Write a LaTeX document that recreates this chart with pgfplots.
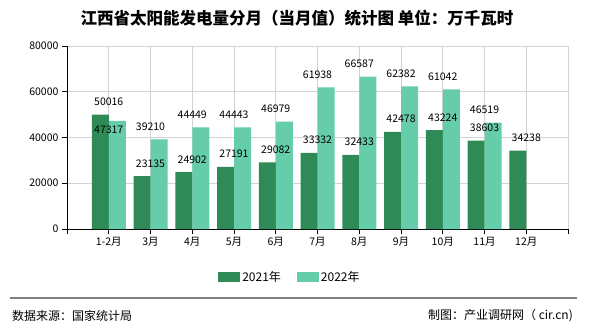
\documentclass[border=0pt]{standalone}
\usepackage{pgfplots}
\pgfplotsset{compat=1.18}
\usepackage{fontspec}
\setmainfont{Noto Sans CJK SC}
\definecolor{c21}{HTML}{2E8B57}
\definecolor{c22}{HTML}{66CDAA}
\definecolor{gridc}{HTML}{D3D3D3}
\pgfplotstableread{
x y s
0 50016 9
1 23135 9
2 24902 9
3 27191 9
4 29082 9
5 33332 9
6 32433 9
7 42478 9
8 43224 9
9 38603 9
10 34238 9
}\dataA
\pgfplotstableread{
x y s
0 47317 -13
1 39210 9
2 44449 9
3 44443 9
4 46979 9
5 61938 9
6 66587 9
7 62382 9
8 61042 9
9 46519 9
}\dataB
\begin{document}
\begin{tikzpicture}[x=1bp,y=1bp]
\path[use as bounding box] (0,0) rectangle (590,330);
\node[font=\fontsize{16.5bp}{19bp}\selectfont\bfseries] at (297,312) {江西省太阳能发电量分月（当月值）统计图 单位：万千瓦时};
\draw[color=gray, line width=1.5bp] (10,32) -- (577,32);
\node[anchor=west, inner sep=0pt, font=\fontsize{12bp}{14bp}\selectfont] at (12,14) {数据来源：国家统计局};
\node[anchor=east, inner sep=0pt, font=\fontsize{12bp}{14bp}\selectfont] at (573,14) {制图：产业调研网（ cir.cn)};
\begin{axis}[
  at={(67bp,101bp)}, anchor=south west,
  width=501bp, height=183bp, scale only axis,
  xmin=-1, xmax=11, ymin=0, ymax=80000,
  enlargelimits=false,
  axis lines=left, axis line style={-, black, line width=0.8bp},
  xtick={-1,0,...,11},
  xticklabels={,1-2月,3月,4月,5月,6月,7月,8月,9月,10月,11月,12月,},
  ytick={0,20000,40000,60000,80000},
  xmajorgrids, ymajorgrids,
  grid style={gridc, line width=0.8bp},
  tick align=outside, tick pos=left,
  major tick length=5bp,
  tick style={black, line width=0.8bp},
  ticklabel style={font=\fontsize{10.5bp}{12bp}\selectfont},
  scaled y ticks=false,
  /pgf/number format/1000 sep={},
  /pgf/number format/assume math mode=true,
  ybar=0pt, bar width=17bp,
  visualization depends on={\thisrow{s}\as\sh},
  nodes near coords,
  every node near coord/.style={anchor=base, inner sep=0pt, yshift=\sh*1bp, font=\fontsize{10.5bp}{12bp}\selectfont, black},
  legend style={at={(0.445,-0.262)}, anchor=center, draw=none, fill=none,
    legend columns=2, font=\fontsize{12bp}{14bp}\selectfont,
    /tikz/every even column/.append style={column sep=14bp}},
  legend image code/.code={\fill[#1] (0bp,-5bp) rectangle (22bp,5bp);},
]
\addplot[fill=c21, draw=none] table[x=x,y=y] {\dataA};
\addplot[fill=c22, draw=none] table[x=x,y=y] {\dataB};
\legend{2021年,2022年}
\end{axis}
\end{tikzpicture}
\end{document}
